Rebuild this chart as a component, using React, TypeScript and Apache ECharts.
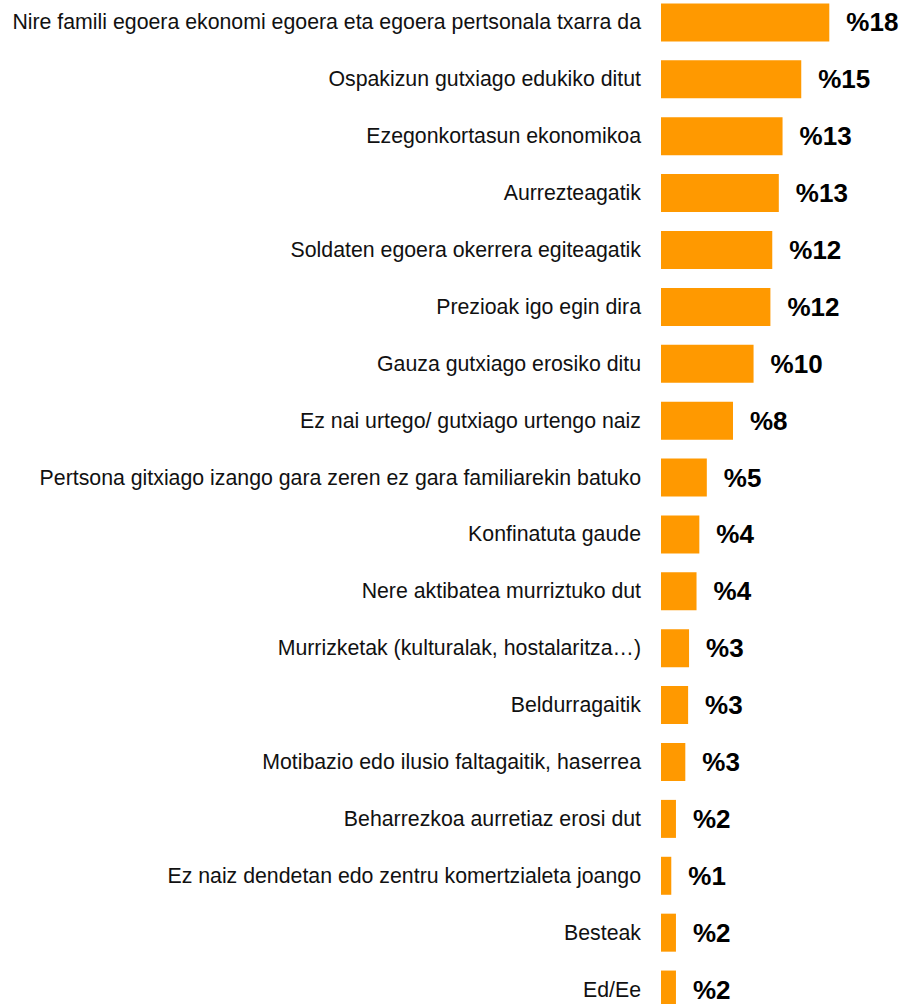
import React, { useEffect, useRef } from "react";
import * as echarts from "echarts";

const categories: string[] = [
  "Nire famili egoera ekonomi egoera eta egoera pertsonala txarra da",
  "Ospakizun gutxiago edukiko ditut",
  "Ezegonkortasun ekonomikoa",
  "Aurrezteagatik",
  "Soldaten egoera okerrera egiteagatik",
  "Prezioak igo egin dira",
  "Gauza gutxiago erosiko ditu",
  "Ez nai urtego/ gutxiago urtengo naiz",
  "Pertsona gitxiago izango gara zeren ez gara familiarekin batuko",
  "Konfinatuta gaude",
  "Nere aktibatea murriztuko dut",
  "Murrizketak (kulturalak, hostalaritza…)",
  "Beldurragaitik",
  "Motibazio edo ilusio faltagaitik, haserrea",
  "Beharrezkoa aurretiaz erosi dut",
  "Ez naiz dendetan edo zentru komertzialeta joango",
  "Besteak",
  "Ed/Ee",
];

const values: number[] = [
  18.0, 15.0, 13.0, 12.6, 11.9, 11.7, 9.9, 7.7, 4.9, 4.1, 3.8, 3.0, 2.9, 2.6, 1.6, 1.1, 1.6, 1.6,
];

export default function App() {
  const ref = useRef<HTMLDivElement>(null);
  useEffect(() => {
    document.body.style.margin = "0";
    document.body.style.overflow = "hidden";
    if (!ref.current) return;
    const chart = echarts.init(ref.current, undefined, { renderer: "svg" });
    chart.setOption({
      animation: false,
      grid: { left: 661, top: 4, width: 233.75, height: 1024 },
      xAxis: {
        type: "value",
        min: 0,
        max: 25,
        show: false,
      },
      yAxis: {
        type: "category",
        data: categories,
        inverse: true,
        axisLine: { show: false },
        axisTick: { show: false },
        splitLine: { show: false },
        axisLabel: {
          margin: 20,
          fontSize: 21.3,
          color: "#111",
          fontFamily: "Liberation Sans, Arial, sans-serif",
        },
      },
      series: [
        {
          type: "bar",
          data: values,
          barWidth: 38,
          itemStyle: { color: "#FF9900" },
          label: {
            show: true,
            position: "right",
            distance: 17,
            fontSize: 26,
            fontWeight: "bold",
            color: "#000",
            fontFamily: "Liberation Sans, Arial, sans-serif",
            formatter: (p: any) => "%" + Math.round(p.value),
          },
        },
      ],
    });
    return () => chart.dispose();
  }, []);
  return (
    <div style={{ width: 902, height: 1004, overflow: "hidden", position: "relative" }}>
      <div ref={ref} style={{ width: 902, height: 1050, position: "absolute", left: 0, top: -10 }} />
    </div>
  );
}
